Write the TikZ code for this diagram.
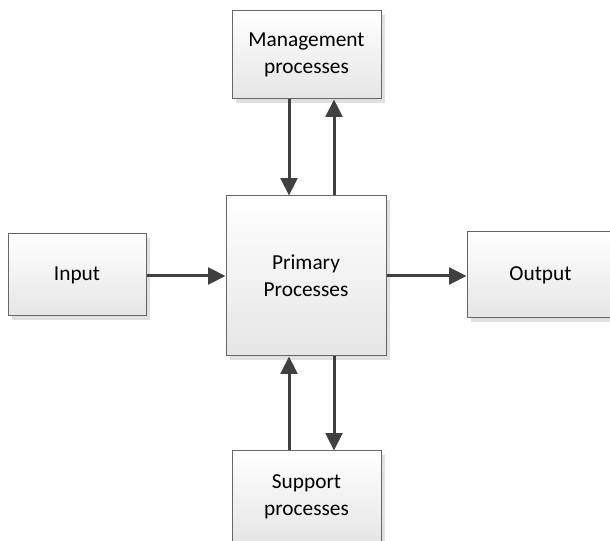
\documentclass[tikz,border=0pt]{standalone}
\usepackage{fontspec}
\setmainfont{Carlito}
\usetikzlibrary{
    positioning,
    arrows.meta,
    calc,
    shadows
}

\begin{document}
\begin{tikzpicture}[x=0.75pt, y=0.75pt,
    procbox/.style={draw=black!60, line width=0.75pt, top color=white, bottom color=black!10,
        drop shadow={shadow xshift=3pt, shadow yshift=-3pt, fill=black!12, opacity=1},
        align=center, inner sep=0pt,
        font=\fontsize{16}{20.25}\selectfont},
    flow/.style={draw=black!75, line width=2.25pt, -{Triangle[length=13pt, width=12.5pt]}}]
            % Frame
            \useasboundingbox (0,0) rectangle (610,541);

            % Boxes
            \node[procbox, minimum width=111.75pt, minimum height=66pt] (mgmt) at (306.5,486) {Management\\processes};
            \node[procbox, minimum width=120pt, minimum height=120pt] (prim) at (306,265) {Primary\\Processes};
            \node[procbox, minimum width=103.5pt, minimum height=61.5pt] (inp) at (77,266) {Input};
            \node[procbox, minimum width=110.25pt, minimum height=64.5pt] (outp) at (540.5,266) {Output};
            \node[procbox, minimum width=111.75pt, minimum height=69pt] (supp) at (306.5,44) {Support\\processes};

            % Columns of the vertical arrows
            \coordinate (lft) at (289,0);
            \coordinate (rgt) at (334,0);

            % Horizontal flows
            \draw[flow] (inp.east |- prim.west) -- (prim.west);
            \draw[flow] (prim.east) -- (outp.west |- prim.east);

            % Vertical flows
            \draw[flow] (mgmt.south -| lft) -- (prim.north -| lft);
            \draw[flow] (prim.north -| rgt) -- (mgmt.south -| rgt);
            \draw[flow] (supp.north -| lft) -- (prim.south -| lft);
            \draw[flow] (prim.south -| rgt) -- (supp.north -| rgt);
          \end{tikzpicture}
\end{document}
